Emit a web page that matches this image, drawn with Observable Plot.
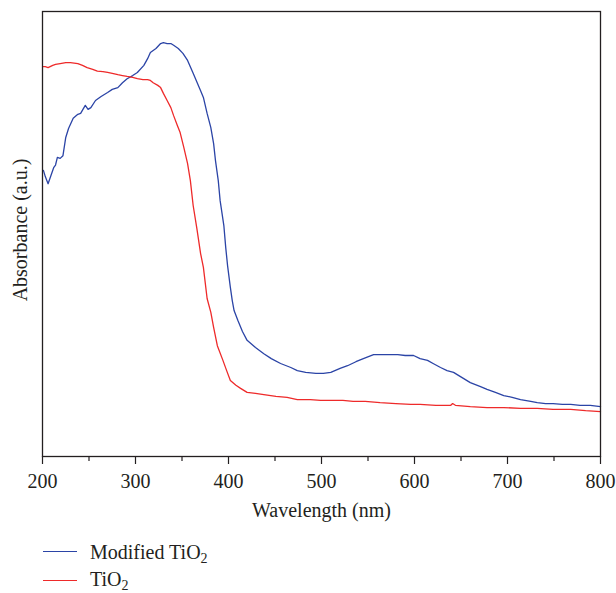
<!DOCTYPE html>
<html>
<head>
<meta charset="utf-8">
<script src="https://cdn.jsdelivr.net/npm/d3@7"></script>
<script src="https://cdn.jsdelivr.net/npm/@observablehq/plot@0.6"></script>
<style>
  body { margin: 0; background: #fff; }
  #wrap { position: relative; width: 616px; height: 593px; overflow: hidden; font-family: "Liberation Serif", "DejaVu Serif", serif; color: #231f20; }
  .leg-line { position: absolute; left: 43px; width: 34px; height: 0; }
  .leg-text { position: absolute; left: 90px; font-size: 20px; line-height: 20px; white-space: nowrap; }
  .leg-text sub { font-size: 14px; vertical-align: -4px; line-height: 0; }
</style>
</head>
<body>
<div id="wrap"></div>
<script>
// Series names
const seriesNames = ["Modified TiO2", "TiO2"];
const seriesColors = ["#2b44a6", "#ee2a2a"];

// Modified TiO2: wavelength (nm) and absorbance (a.u.)
const modNm = [201,203,206,209,212,214,216,219,222,225,228,233,238,241,246,249,252,257,263,270,275,281,286,291,297,302,309,313,316,322,327,330,334,338,341,346,351,356,362,370,373,377,381,384,386,389,391,395,397,399,402,404,406,410,415,420,429,438,446,456,467,474,483,494,502,510,520,528,537,545,556,569,582,590,599,606,614,620,628,635,642,649,660,671,678,687,696,705,714,725,732,741,749,759,768,778,789,800];
const modAbs = [0.643,0.629,0.613,0.631,0.649,0.655,0.672,0.670,0.676,0.717,0.737,0.760,0.769,0.771,0.789,0.780,0.784,0.800,0.809,0.818,0.825,0.829,0.840,0.849,0.856,0.863,0.879,0.894,0.908,0.917,0.928,0.930,0.928,0.928,0.924,0.917,0.906,0.890,0.861,0.822,0.807,0.771,0.739,0.703,0.665,0.620,0.575,0.519,0.470,0.429,0.380,0.351,0.328,0.306,0.281,0.261,0.245,0.231,0.220,0.209,0.200,0.193,0.189,0.187,0.187,0.189,0.198,0.204,0.213,0.220,0.229,0.229,0.229,0.227,0.227,0.220,0.216,0.209,0.200,0.193,0.189,0.180,0.166,0.157,0.151,0.144,0.137,0.133,0.128,0.124,0.121,0.119,0.119,0.117,0.117,0.115,0.115,0.112];

// TiO2: wavelength (nm) and absorbance (a.u.)
const tioNm = [201,203,206,211,214,219,225,230,238,243,248,254,259,265,270,275,281,286,291,297,302,308,313,316,319,324,327,330,334,338,341,345,348,352,356,359,362,366,370,373,377,381,384,388,394,398,402,408,413,420,429,438,451,463,474,488,499,510,523,534,547,563,580,596,606,623,639,641,644,660,678,696,714,732,749,768,784,800];
const tioAbs = [0.876,0.876,0.874,0.879,0.881,0.883,0.885,0.885,0.883,0.879,0.874,0.870,0.866,0.865,0.863,0.861,0.858,0.856,0.854,0.852,0.849,0.847,0.847,0.845,0.840,0.834,0.829,0.816,0.800,0.784,0.766,0.744,0.728,0.694,0.658,0.620,0.564,0.512,0.456,0.425,0.355,0.324,0.290,0.249,0.216,0.193,0.171,0.160,0.153,0.144,0.142,0.139,0.135,0.133,0.128,0.128,0.126,0.126,0.126,0.124,0.124,0.121,0.119,0.117,0.117,0.115,0.115,0.119,0.115,0.112,0.110,0.110,0.108,0.108,0.106,0.106,0.103,0.101];

// Axis ticks
const xTicks = [200,300,400,500,600,700,800];
const xMinorTicks = [250,350,450,550,650,750];
const xLabel = "Wavelength (nm)";
const yLabel = "Absorbance (a.u.)";

const modData = modNm.map((nm, i) => ({nm, a: modAbs[i]}));
const tioData = tioNm.map((nm, i) => ({nm, a: tioAbs[i]}));

const ink = "#231f20";
const chart = Plot.plot({
  width: 616,
  height: 525,
  marginLeft: 42,
  marginRight: 16,
  marginTop: 11,
  marginBottom: 69,
  style: {fontFamily: '"Liberation Serif", "DejaVu Serif", serif', fontSize: "20px", color: ink, background: "#fff", overflow: "visible"},
  x: {domain: [200, 800]},
  y: {domain: [0, 1], axis: null},
  marks: [
    Plot.line(modData, {x: "nm", y: "a", stroke: seriesColors[0], strokeWidth: 1.3}),
    Plot.line(tioData, {x: "nm", y: "a", stroke: seriesColors[1], strokeWidth: 1.3}),
    Plot.frame({stroke: ink, strokeWidth: 1.3}),
    Plot.axisX(xMinorTicks, {tickSize: 5, tickFormat: () => "", label: null, strokeWidth: 1.2}),
    Plot.axisX(xTicks, {tickSize: 8, tickPadding: 9, tickFormat: d => String(d), label: null, fontSize: 20, strokeWidth: 1.2}),
    Plot.text([xLabel], {frameAnchor: "bottom", dy: 60, lineAnchor: "bottom", fontSize: 20, fill: ink}),
    Plot.text([yLabel], {frameAnchor: "left", dx: -22, dy: -4, rotate: -90, textAnchor: "middle", fontSize: 20, fill: ink})
  ]
});

const wrap = document.getElementById("wrap");
wrap.appendChild(chart);

const legendRows = [
  {lineTop: 551, textTop: 542},
  {lineTop: 580, textTop: 569}
];
seriesNames.forEach((name, i) => {
  const line = document.createElement("div");
  line.className = "leg-line";
  line.style.top = legendRows[i].lineTop + "px";
  line.style.borderTop = "1.5px solid " + seriesColors[i];
  wrap.appendChild(line);
  const txt = document.createElement("div");
  txt.className = "leg-text";
  txt.style.top = legendRows[i].textTop + "px";
  const base = name.replace(/2$/, "");
  txt.appendChild(document.createTextNode(base));
  const sub = document.createElement("sub");
  sub.textContent = "2";
  txt.appendChild(sub);
  wrap.appendChild(txt);
});
</script>
</body>
</html>
